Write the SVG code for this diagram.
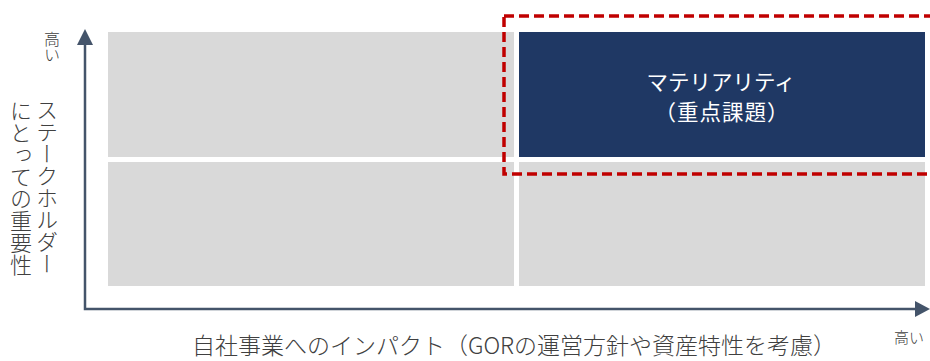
<svg xmlns="http://www.w3.org/2000/svg" width="930" height="361" viewBox="0 0 930 361">
<style>
.q{fill:#D9D9D9}
.lbl{font-family:"Noto Sans CJK JP","Noto Sans",sans-serif;fill:#404040;font-weight:300}
.v{writing-mode:vertical-rl}
.ax{stroke:#44546A;stroke-width:2.5;fill:none}
.ah{fill:#44546A}
.wt{font-family:"Noto Sans CJK JP",sans-serif;font-size:21.5px;fill:#FFFFFF;font-weight:400}
</style>
<rect width="930" height="361" fill="#FFFFFF"/>
<g id="quadrant-tl"><rect class="q" x="108" y="32" width="406" height="125"/></g>
<g id="quadrant-bl"><rect class="q" x="108" y="162" width="406" height="124"/></g>
<g id="quadrant-br"><rect class="q" x="519" y="162" width="406" height="124"/></g>
<g id="materiality">
<rect x="519" y="32" width="406" height="125" fill="#1F3864"/>
<text class="wt" x="721" y="90" text-anchor="middle">マテリアリティ</text>
<text class="wt" x="722" y="120" text-anchor="middle" letter-spacing="1">（重点課題）</text>
</g>
<g id="highlight"><rect x="504" y="16" width="440" height="158" fill="none" stroke="#C00000" stroke-width="3.5" stroke-dasharray="10,5"/></g>
<g id="connectors">
<path class="ax" d="M85,44 V309 H916"/>
<polygon class="ah" points="77,45 93,45 85,29"/>
<polygon class="ah" points="915,301 915,317 930,309"/>
</g>
<g id="y-label">
<text class="lbl v" x="52" y="31" font-size="16">高い</text>
<text class="lbl v" x="47" y="99" font-size="22">ステークホルダー</text>
<text class="lbl v" x="21" y="100" font-size="22">にとっての重要性</text>
</g>
<g id="x-label">
<text class="lbl" x="909" y="343" font-size="15" text-anchor="middle">高い</text>
<text class="lbl" x="514" y="354" font-size="23" text-anchor="middle">自社事業へのインパクト（GORの運営方針や資産特性を考慮）</text>
</g>
</svg>
